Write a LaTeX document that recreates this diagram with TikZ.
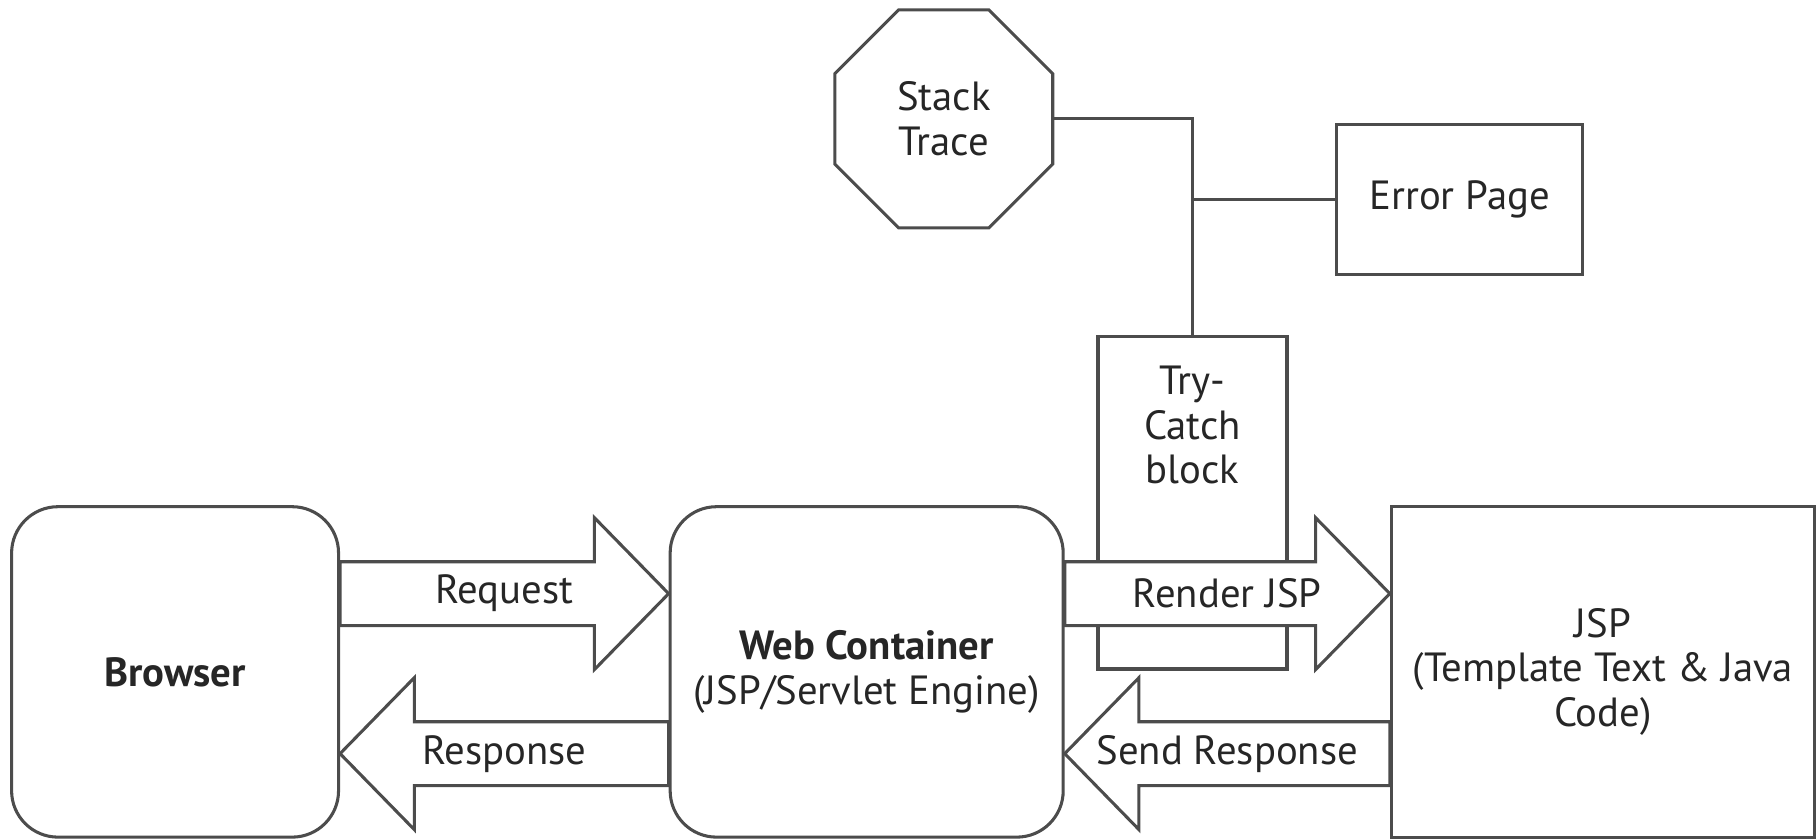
\documentclass[tikz,border=0pt]{standalone}
\usepackage{fontspec}
\setmainfont{PT Sans}
\usepackage{tikz}
\usetikzlibrary{calc,positioning,shapes.geometric}

\tikzset{
  box/.style={draw=black!70, line width=0.75pt, fill=white, align=center, inner sep=0pt},
  roundbox/.style={box, rounded corners=4mm},
  bigarrow/.style={draw=black!70, line width=0.75pt, fill=white, line join=miter},
  wire/.style={draw=black!70, line width=0.75pt}
}

% block arrow: #1 tail, #2 tip, #3 direction (1 or -1), #4 label name, #5 label text
\newcommand{\bigarrow}[5]{%
  \draw[bigarrow] ($(#1)+(0,-27.5)$) -- ($(#2)+({-64*(#3)},-27.5)$) -- ($(#2)+({-64*(#3)},-65.5)$) -- (#2)
    -- ($(#2)+({-64*(#3)},65.5)$) -- ($(#2)+({-64*(#3)},27.5)$) -- ($(#1)+(0,27.5)$) -- cycle;
  \node (#4) at ($(#1)!0.5!(#2)$) {#5};}

\begin{document}
\begin{tikzpicture}[x=0.1mm, y=-0.1mm, font=\fontsize{10}{11}\selectfont, text=black!85]

    % Page frame
    \useasboundingbox (0,0) rectangle (1568,723.6);

  % Error handling part
  \node[regular polygon, regular polygon sides=8, draw=black!70, line width=0.75pt,
        minimum size=20.35mm, inner sep=0pt, align=center] (stack) at (814,102.5) {Stack\\Trace};
  \node[box, minimum width=21.2mm, minimum height=13mm] (errpage) at (1259,172) {Error Page};
  \node[box, minimum width=16.3mm, minimum height=28.7mm] (trycatch) at (1028.5,433.5) {};
  \node[align=center, inner sep=0pt, below=2.6mm of trycatch.north] (trytext) {Try-\\Catch\\block};

  \draw[wire] (stack.east) -| (trycatch.north);
  \draw[wire] (errpage.west) -- (errpage.west -| trycatch.north);

  % The three main boxes
  \node[roundbox, minimum width=28.2mm, minimum height=28.5mm, font=\bfseries] (browser) at (151,579.5) {Browser};
  \node[roundbox, minimum width=33.9mm, minimum height=28.5mm] (web) at (747.5,579.5)
       {\textbf{Web Container}\\(JSP/Servlet Engine)};
  \node[box, minimum width=36.5mm, minimum height=28.5mm] (jsp) at (1382.5,579.5)
       {JSP\\(Template Text \& Java\\Code)};

  % Ends of the big arrows
  \coordinate (browserup) at ($(browser.east)+(0,-67.5)$);
  \coordinate (browserdown) at ($(browser.east)+(0,70.5)$);
  \coordinate (webinup) at ($(web.west)+(0,-67.5)$);
  \coordinate (webindown) at ($(web.west)+(0,70.5)$);
  \coordinate (weboutup) at ($(web.east)+(0,-67.5)$);
  \coordinate (weboutdown) at ($(web.east)+(0,70.5)$);
  \coordinate (jspup) at ($(jsp.west)+(0,-67.5)$);
  \coordinate (jspdown) at ($(jsp.west)+(0,70.5)$);

  % Draw the big arrows
  \bigarrow{browserup}{webinup}{1}{request}{Request}
  \bigarrow{webindown}{browserdown}{-1}{response}{Response}
  \bigarrow{weboutup}{jspup}{1}{render}{Render JSP}
  \bigarrow{jspdown}{weboutdown}{-1}{sendresp}{Send Response}

\end{tikzpicture}
\end{document}
